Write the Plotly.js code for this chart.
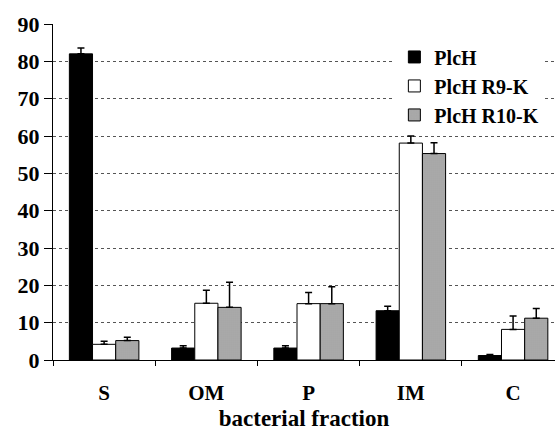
<!DOCTYPE html>
<html>
<head>
<meta charset="utf-8">
<script src="https://cdn.plot.ly/plotly-3.0.1.min.js"></script>
<style>html,body{margin:0;padding:0;background:#fff;}#chart{width:555px;height:431px;}</style>
</head>
<body>
<div id="chart"></div>
<script>
const categories = ["S", "OM", "P", "IM", "C"];
const seriesNames = ["PlcH", "PlcH R9-K", "PlcH R10-K"];
const plcH = [82, 3.2, 3.2, 13.2, 1.2];
const plcHErr = [1.6, 0.6, 0.6, 1.2, 0.3];
const r9k = [4.2, 15.2, 15.1, 58.1, 8.2];
const r9kErr = [0.8, 3.5, 3.0, 1.9, 3.6];
const r10k = [5.2, 14.1, 15.1, 55.3, 11.2];
const r10kErr = [0.9, 6.7, 4.5, 2.9, 2.6];
const yTicks = [0, 10, 20, 30, 40, 50, 60, 70, 80, 90];

const font = "'Liberation Serif', 'Times New Roman', serif";
const errStyle = {type: "data", symmetric: false, arrayminus: [0,0,0,0,0], color: "#000", thickness: 1.5, width: 3.5};

function bar(name, y, err, color, pattern) {
  const t = {
    type: "bar", name: name, x: categories, y: y,
    marker: {color: color, line: {color: "#000", width: 1}},
    error_y: Object.assign({}, errStyle, {array: err})
  };
  if (pattern) t.marker.pattern = pattern;
  return t;
}

const data = [
  bar(seriesNames[0], plcH, plcHErr, "#000"),
  bar(seriesNames[1], r9k, r9kErr, "#fff"),
  bar(seriesNames[2], r10k, r10kErr, "#b0b0b0", {shape: ".", fgcolor: "#8c8c8c", bgcolor: "#bababa", size: 2, solidity: 0.4})
];

const layout = {
  width: 555, height: 431,
  margin: {l: 53, r: 0, t: 24, b: 71},
  paper_bgcolor: "#fff", plot_bgcolor: "#fff",
  barmode: "group", bargap: 0.32, bargroupgap: 0,
  font: {family: font, color: "#000"},
  showlegend: true,
  legend: {
    x: 0.68, y: 0.96, xanchor: "left", yanchor: "top",
    bgcolor: "#fff", borderwidth: 0,
    font: {family: font, size: 20, color: "#000", weight: "bold"},
    tracegroupgap: 0, itemwidth: 30
  },
  xaxis: {
    type: "category", range: [-0.5, 4.41],
    showline: true, linecolor: "#000", linewidth: 1,
    ticks: "outside", tickson: "boundaries", ticklen: 5, tickcolor: "#000",
    showgrid: false, zeroline: false,
    tickfont: {family: font, size: 21, color: "#000", weight: "bold"},
    ticklabelstandoff: 14,
    automargin: false,
    title: {text: "bacterial fraction", font: {family: font, size: 23, color: "#000", weight: "bold"}, standoff: 9}
  },
  yaxis: {
    range: [0, 90], tickvals: yTicks, ticktext: yTicks.map(String),
    showline: true, linecolor: "#000", linewidth: 1,
    ticks: "outside", ticklen: 8, tickcolor: "#000",
    showgrid: true, gridcolor: "#555", griddash: "3px,3px", gridwidth: 1,
    zeroline: false,
    tickfont: {family: font, size: 22, color: "#000", weight: "bold"}
  }
};

Plotly.newPlot("chart", data, layout, {displayModeBar: false, staticPlot: true});
</script>
</body>
</html>
